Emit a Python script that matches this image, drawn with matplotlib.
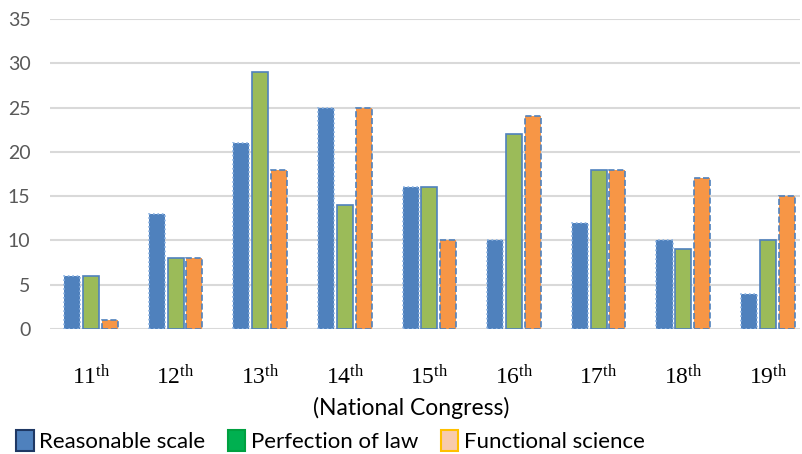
import matplotlib.pyplot as plt
import numpy as np
from matplotlib.patches import Patch

# number of ... per national congress
congresses = ['11', '12', '13', '14', '15', '16', '17', '18', '19']
reasonable_scale = [6, 13, 21, 25, 16, 10, 12, 10, 4]
perfection_of_law = [6, 8, 29, 14, 16, 22, 18, 9, 10]
functional_science = [1, 8, 18, 25, 10, 24, 18, 17, 15]

x = np.arange(len(congresses))
w = 0.19
off = 0.222

fig = plt.figure(figsize=(8.02, 4.54), dpi=100)
ax = fig.add_axes([50/802, 125/454, 750/802, 310/454])

ax.bar(x - off, reasonable_scale, w, color='#4F81BD', edgecolor='#8DB3E2',
       linestyle=':', linewidth=1.2, zorder=3)
ax.bar(x, perfection_of_law, w, color='#9BBB59', edgecolor='#4F81BD',
       linewidth=1.2, zorder=3)
ax.bar(x + off, functional_science, w, color='#F79646', edgecolor='#4F81BD',
       linestyle='--', linewidth=1.2, zorder=3)

ax.set_xlim(-0.485, 8.38)
ax.set_ylim(0, 35)
ax.set_yticks(range(0, 36, 5))
ax.grid(axis='y', color='#D9D9D9', linewidth=1.5, zorder=0)
for s in ax.spines.values():
    s.set_visible(False)
ax.tick_params(axis='both', length=0)
ax.tick_params(axis='y', pad=14, labelsize=14, labelcolor='#595959')
for t in ax.get_yticklabels():
    t.set_fontfamily('Lato')

ax.set_xticks(x)
ax.set_xticklabels([r'$\mathregular{%s^{th}}$' % c for c in congresses],
                   fontfamily='Liberation Serif', fontsize=17)
ax.tick_params(axis='x', pad=26)

ax.set_xlabel('(National Congress)', fontfamily='Lato', fontsize=16.5, labelpad=5)
ax.xaxis.label.set_x(0.481)

handles = [Patch(facecolor='#4F81BD', edgecolor='#1F3864', linewidth=1.5),
           Patch(facecolor='#00B050', edgecolor='#00A040', linewidth=1.5),
           Patch(facecolor='#F8CBAD', edgecolor='#FFC000', linewidth=1.5)]
fig.legend(handles, ['Reasonable scale', 'Perfection of law', 'Functional science'],
           loc='center left', bbox_to_anchor=(-0.005, 13/454), ncol=3,
           frameon=False, prop={'family': 'Lato', 'size': 16},
           handlelength=0.8, handleheight=1.1, handletextpad=0.25, columnspacing=1.0)

plt.savefig('out.png', dpi=100)
